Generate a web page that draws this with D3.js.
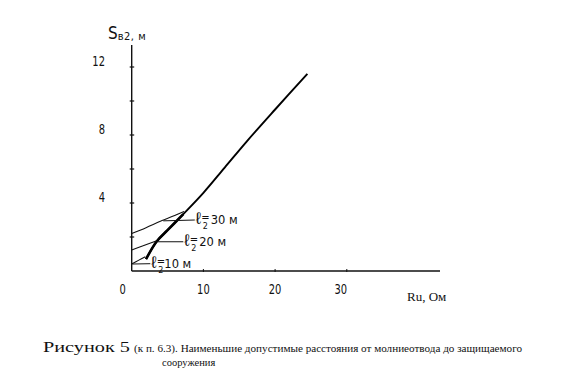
<!DOCTYPE html>
<html><head><meta charset="utf-8">
<script src="https://cdn.jsdelivr.net/npm/d3@7"></script>
<style>html,body{margin:0;padding:0;background:#fff}svg{display:block}</style>
</head><body>
<svg id="c" width="567" height="383"></svg>
<script>
// Data
const mainX = [2, 3.5, 5, 7.2, 10, 13, 16, 20, 24.5];
const mainY = [0.7, 1.75, 2.4, 3.35, 4.6, 6.1, 7.6, 9.5, 11.6];
const l30X = [0, 2, 4, 6, 7.3];
const l30Y = [2.2, 2.55, 2.92, 3.27, 3.5];
const l20X = [0, 1.5, 3.5];
const l20Y = [1.24, 1.47, 1.78];
const l10X = [0, 1, 1.9];
const l10Y = [0.41, 0.64, 0.84];
const leaderLabels = ["30 м", "20 м", "10 м"];
const leaderX0 = [4.4, 3.5, 0.1];
const leaderX1 = [8.8, 7.2, 2.6];
const leaderY0 = [2.95, 1.72, 0.41];
const leaderY1 = [3.0, 1.72, 0.43];
const xTicks = [0, 10, 20, 30];
const yTicks = [4, 8, 12];
const yMinorTicks = [2, 4, 6, 8, 10, 12];

const svg = d3.select("#c");
svg.append("rect").attr("width",567).attr("height",383).attr("fill","#fff");

const x = d3.scaleLinear().domain([0, 30]).range([131.7, 346.8]);
const y = d3.scaleLinear().domain([0, 12]).range([271, 67]);

// axes
const ax = svg.append("g").attr("stroke","#111").attr("fill","none");
ax.append("line").attr("x1", x(0)).attr("x2", x(0)).attr("y1", 45).attr("y2", y(0)).attr("stroke-width",1.4);
ax.append("line").attr("x1", x(0)).attr("x2", 440).attr("y1", y(0)).attr("y2", y(0)).attr("stroke-width",1.4);
ax.selectAll(".yt").data(yMinorTicks).join("line")
  .attr("x1", x(0)-2).attr("x2", x(0)+2.5).attr("y1", d=>y(d)).attr("y2", d=>y(d)).attr("stroke-width",1.2);
ax.selectAll(".xt").data(xTicks.slice(1)).join("line")
  .attr("x1", d=>x(d)).attr("x2", d=>x(d)).attr("y1", y(0)-2).attr("y2", y(0)+1).attr("stroke-width",1);

// tick labels (narrow, tall numerals)
const tf = "'DejaVu Sans Condensed','DejaVu Sans',sans-serif";
svg.selectAll(".yl").data(yTicks).join("text")
  .attr("transform", d=>`translate(105,${y(d)-6}) scale(0.85,1.15)`).attr("dy","0.36em")
  .attr("text-anchor","end").attr("font-family",tf).attr("font-size",13).attr("fill","#111")
  .text(d=>d);
svg.selectAll(".xl").data(xTicks).join("text")
  .attr("transform", d=>`translate(${d===0 ? x(d)-9 : (d===30 ? x(d)-6 : x(d))},289) scale(0.85,1.15)`).attr("dy","0.36em")
  .attr("text-anchor","middle").attr("font-family",tf).attr("font-size",13).attr("fill","#111")
  .text(d=>d);

// axis titles
const yt = svg.append("text").attr("x",108).attr("y",39).attr("font-family",tf).attr("fill","#111");
yt.append("tspan").attr("font-size",17).text("S");
yt.append("tspan").attr("font-size",11).attr("dy",1).attr("letter-spacing",0.5).text("в2, м");
svg.append("text").attr("x",407).attr("y",301).attr("font-family","'Liberation Serif',serif")
  .attr("font-size",13).attr("fill","#111").text("Ru, Ом");

// curves
const line = d3.line().x(d=>x(d[0])).y(d=>y(d[1])).curve(d3.curveCatmullRom);
const zip = (a,b)=>a.map((v,i)=>[v,b[i]]);
svg.append("path").datum(zip(mainX.slice(0,4), mainY.slice(0,4))).attr("d",line)
  .attr("fill","none").attr("stroke","#000").attr("stroke-width",2.6);
svg.append("path").datum(zip(mainX, mainY)).attr("d",line)
  .attr("fill","none").attr("stroke","#000").attr("stroke-width",1.9);
[[l30X,l30Y],[l20X,l20Y],[l10X,l10Y]].forEach(([a,b])=>{
  svg.append("path").datum(zip(a,b)).attr("d",line)
    .attr("fill","none").attr("stroke","#111").attr("stroke-width",1.1);
});

// leaders + labels
leaderLabels.forEach((lab,i)=>{
  svg.append("line").attr("x1",x(leaderX0[i])).attr("x2",x(leaderX1[i]))
    .attr("y1",y(leaderY0[i])).attr("y2",y(leaderY1[i])).attr("stroke","#111").attr("stroke-width",1);
  const t = svg.append("text").attr("x", x(leaderX1[i])+1).attr("y", y(leaderY1[i])+4)
    .attr("font-family","'DejaVu Sans',sans-serif").attr("fill","#111");
  t.append("tspan").attr("font-size",17).attr("font-weight","300").text("ℓ");
  t.append("tspan").attr("font-size",10).attr("dy",-3).text("=");
  t.append("tspan").attr("font-size",8).attr("dx",-7).attr("dy",8).text("2");
  t.append("tspan").attr("font-size",11.5).attr("dx", i===2 ? 1 : 3).attr("dy",-5).text(lab);
});

// caption
svg.append("text").attr("x",43).attr("y",352).attr("font-family","'Liberation Serif',serif")
  .attr("font-size",15).attr("fill","#111").attr("textLength",87).attr("lengthAdjust","spacingAndGlyphs").text("Рисунок 5");
svg.append("text").attr("x",134).attr("y",352).attr("font-family","'Liberation Serif',serif")
  .attr("font-size",10.5).attr("fill","#111").attr("textLength",388).attr("lengthAdjust","spacingAndGlyphs")
  .text("(к п. 6.3). Наименьшие допустимые расстояния от молниеотвода до защищаемого");
svg.append("text").attr("x",162).attr("y",366).attr("font-family","'Liberation Serif',serif")
  .attr("font-size",10.5).attr("fill","#111").text("сооружения");
</script>
</body></html>
